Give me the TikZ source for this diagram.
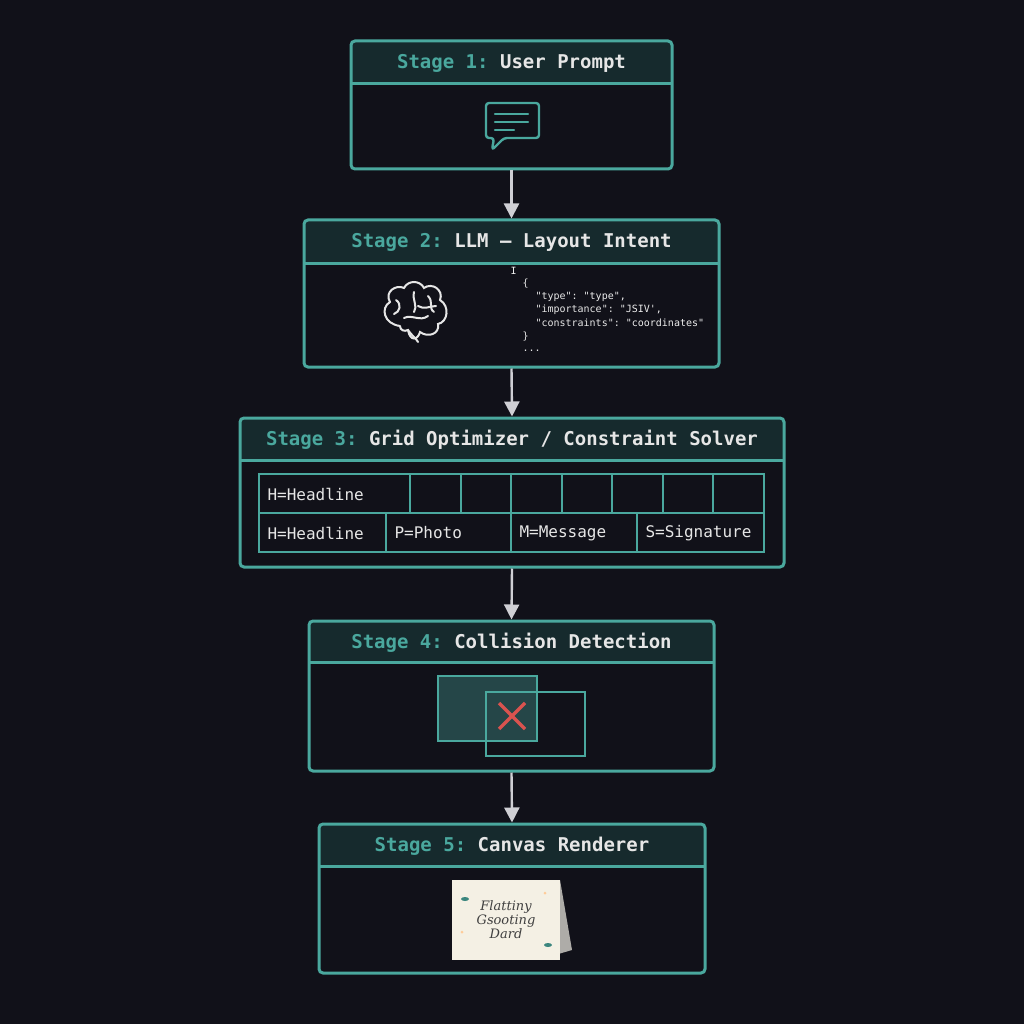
\documentclass[tikz,border=0pt]{standalone}
\usepackage{fontspec}
\setmonofont{DejaVu Sans Mono}
\setmainfont{DejaVu Serif}
\usetikzlibrary{arrows.meta}
\definecolor{bg}{HTML}{111119}
\definecolor{teal}{HTML}{4AA89E}
\definecolor{hdr}{HTML}{162A2D}
\definecolor{lt}{HTML}{E6E6E6}
\definecolor{arr}{HTML}{CFCFD4}
\definecolor{xred}{HTML}{D9534F}
\definecolor{card}{HTML}{F4F0E4}
\begin{document}
\begin{tikzpicture}[x=1pt,y=-1pt,
  box/.style={draw=teal,line width=3pt,rounded corners=4pt,fill=bg},
  hd/.style={font=\ttfamily\bfseries\fontsize{19}{20}\selectfont,text=lt},
  cell/.style={draw=teal,line width=2.2pt},
  ct/.style={font=\ttfamily\fontsize{16}{18}\selectfont,text=lt,anchor=west},
  js/.style={font=\ttfamily\fontsize{10}{11}\selectfont,text=lt,anchor=west},
  con/.style={draw=arr,line width=2.4pt,-{Triangle[length=15pt,width=15pt]}}]
\fill[bg] (0,0) rectangle (1024,1024);
\useasboundingbox (0,0) rectangle (1024,1024);
\def\stage#1#2#3#4#5#6#7{%
  \fill[hdr,rounded corners=4pt] (#2,#3) rectangle (#4,#6);
  \draw[box,fill=none] (#2,#3) rectangle (#4,#5);
  \draw[teal,line width=3pt] (#2,#6) -- (#4,#6);
  \node[hd] (#1h) at ({(#2+#4)/2},{(#3+#6)/2+1}) {#7};
  \coordinate (#1t) at ({(#2+#4)/2},#3-1.5);
  \coordinate (#1b) at ({(#2+#4)/2},#5+1.5);}
\stage{s1}{351}{41}{672}{169}{84}{\textcolor{teal}{Stage 1:} User Prompt}
\stage{s2}{304}{220}{719}{367}{263}{\textcolor{teal}{Stage 2:} LLM – Layout Intent}
\stage{s3}{240}{418}{784}{567}{460}{\textcolor{teal}{Stage 3:} Grid Optimizer / Constraint Solver}
\stage{s4}{309}{621}{714}{771}{662}{\textcolor{teal}{Stage 4:} Collision Detection}
\stage{s5}{319}{824}{705}{973}{866}{\textcolor{teal}{Stage 5:} Canvas Renderer}
\draw[con] (s1b) -- (s2t);
\draw[con] (s2b) -- (s3t);
\draw[con] (s3b) -- (s4t);
\draw[con] (s4b) -- (s5t);
% chat icon
\draw[teal,line width=2.4pt,rounded corners=3pt,line join=round]
  (486,138) -- (486,103) -- (539,103) -- (539,138) -- (504,138) -- (492,150) -- (494,138) -- cycle;
\draw[teal,line width=2.4pt,line cap=round] (495,114)--(528,114) (495,122)--(528,122) (495,130)--(514,130);
% brain icon
\begin{scope}[lt,line width=2pt,line cap=round]
\draw (400,326) .. controls (384,324) and (380,308) .. (390,302)
  .. controls (384,292) and (396,284) .. (404,288)
  .. controls (408,280) and (420,280) .. (424,288)
  .. controls (432,282) and (444,290) .. (440,300)
  .. controls (450,306) and (448,322) .. (438,324)
  .. controls (440,334) and (428,338) .. (420,332)
  .. controls (418,340) and (410,342) .. (408,330)
  .. controls (404,332) and (400,330) .. (400,326);
\draw (408,330) .. controls (412,336) and (416,338) .. (418,342);
\draw (396,300) .. controls (402,304) and (400,312) .. (394,314);
\draw (414,292) .. controls (412,300) and (418,306) .. (414,312);
\draw (428,296) .. controls (434,302) and (428,308) .. (434,312);
\draw (404,318) .. controls (412,314) and (420,322) .. (428,316);
\draw (418,306) .. controls (424,310) and (430,306) .. (436,306);
\end{scope}
% json
\node[js] (j0) at (507,271) {\textcolor{lt!70}{I}};
\node[js] (j1) at (519,284) {\{};
\node[js] (j2) at (532,297) {"type": \textcolor{lt!70}{"type",}};
\node[js] (j3) at (532,310) {"importance": \textcolor{lt!70}{"JSIV',}};
\node[js] (j4) at (532,323) {"constraints": \textcolor{lt!70}{"coordinates"}};
\node[js] (j5) at (519,337) {\}};
\node[js] (j6) at (519,351) {...};
% grid
\draw[cell] (259,474) rectangle (764,552);
\draw[cell] (259,513) -- (764,513);
\foreach \x in {410,461,511,562,612,663,713} \draw[cell] (\x,474) -- (\x,513);
\foreach \x in {386,511,637} \draw[cell] (\x,513) -- (\x,552);
\node[ct] (g0) at (264,494) {H=Headline};
\node[ct] (g1) at (264,533) {H=Headline};
\node[ct] (g2) at (391,533) {P=Photo};
\node[ct] (g3) at (516,533) {M=Message};
\node[ct] (g4) at (642,533) {S=Signature};
% collision
\fill[teal!35!bg] (438,676) rectangle (537,741);
\draw[teal,line width=2.4pt] (438,676) rectangle (537,741);
\draw[teal,line width=2.4pt] (486,692) rectangle (585,756);
\draw[xred,line width=3.5pt] (499,703) -- (525,729) (525,703) -- (499,729);
% card
\fill[gray!60!card] (548,880) -- (560,880) -- (572,950) -- (548,957) -- cycle;
\fill[card] (452,880) rectangle (560,960);
\node[font=\itshape\fontsize{13}{14}\selectfont,text=black!75,align=center] (ct) at (506,920) {Flattiny\\ Gsooting\\ Dard};
\fill[teal!80!black] (465,899) ellipse (4pt and 2pt) (548,945) ellipse (4pt and 2pt);
\fill[orange!40] (545,893) circle (1.5pt) (462,932) circle (1.5pt);
\end{tikzpicture}
\end{document}
